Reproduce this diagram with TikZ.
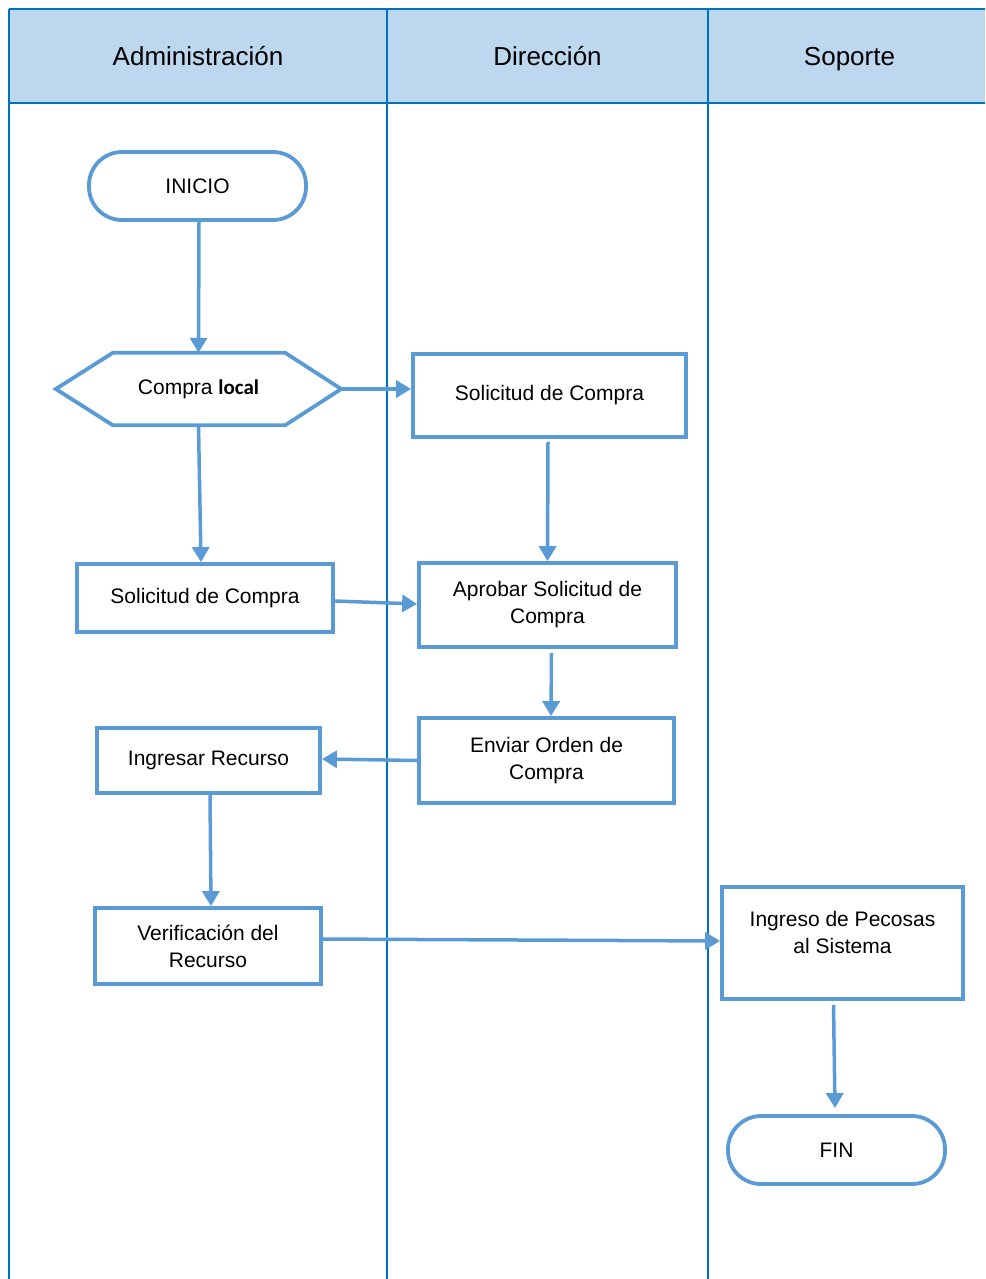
\documentclass[tikz,border=0pt]{standalone}
\usepackage{fontspec}
\setmainfont{Liberation Sans}
\newfontfamily\calibrilike{Carlito}
\usetikzlibrary{arrows.meta,calc}

\definecolor{lanecol}{HTML}{0070C0}
\definecolor{headfill}{HTML}{BDD7EE}
\definecolor{shapecol}{HTML}{5B9BD5}

\tikzset{
  lane/.style={draw=lanecol, line width=2pt},
  headtxt/.style={font=\fontsize{26}{30}\selectfont, text=black, anchor=base},
  box/.style={draw=shapecol, line width=3.8pt, fill=white, align=center,
    font=\fontsize{21}{27}\selectfont, inner sep=0pt},
  term/.style={box, rounded corners=33pt},
  flow/.style={draw=shapecol, line width=3.5pt,
    -{Triangle[length=15pt,width=17pt]}}
}

\begin{document}
\begin{tikzpicture}[x=1pt,y=-1pt]
\useasboundingbox (0,0) rectangle (985,1279);

% header band and swimlane borders
\fill[headfill] (9,9) rectangle (985,103);
\draw[lane] (9,9) -- (985,9);
\draw[lane] (9,103) -- (985,103);
\draw[lane] (9,9) -- (9,1279);
\draw[lane] (387,9) -- (387,1279);
\draw[lane] (708,9) -- (708,1279);

\node[headtxt] (hadm) at (198,66) {Administración};
\node[headtxt] (hdir) at (547.5,66) {Dirección};
\node[headtxt] (hsop) at (849.5,66) {Soporte};

% process steps
\node[term, minimum width=217pt, minimum height=68pt] (inicio) at (197.5,186) {INICIO};

\node[minimum width=285pt, minimum height=72pt, inner sep=0pt,
      font=\fontsize{21}{27}\selectfont] (hex) at (198.5,389) {};
\draw[draw=shapecol, line width=3.8pt, line join=miter]
  (hex.west) -- ($(hex.north west)+(57,0)$) -- ($(hex.north east)+(-56,0)$)
  -- (hex.east) -- ($(hex.south east)+(-56,0)$) -- ($(hex.south west)+(57,0)$)
  -- cycle;
\node[font=\fontsize{21}{27}\selectfont] (hextxt) at (hex.center)
  {Compra {\calibrilike\bfseries local}};

\node[box, minimum width=273pt, minimum height=83pt] (sol2) at (549.5,395.5) {Solicitud de Compra};
\node[box, minimum width=256pt, minimum height=68pt] (sol1) at (205,598) {Solicitud de Compra};
\node[box, minimum width=257pt, minimum height=84pt] (aprob) at (547.5,605) {Aprobar Solicitud de\\Compra};
\node[box, minimum width=255pt, minimum height=85pt] (enviar) at (546.5,760.5) {Enviar Orden de\\Compra};
\node[box, minimum width=223pt, minimum height=65pt] (ingresar) at (208.5,760.5) {Ingresar Recurso};
\node[box, minimum width=226pt, minimum height=76pt] (verif) at (208,946) {Verificación del\\Recurso};
\node[box, minimum width=241pt, minimum height=112pt] (pecosas) at (842.5,943) {};
\node[align=center, font=\fontsize{21}{27}\selectfont, inner sep=0pt] (pectxt)
  at ([yshift=10.5pt]pecosas.center) {Ingreso de Pecosas\\al Sistema};
\node[term, minimum width=217pt, minimum height=68pt] (fin) at (836.5,1150) {FIN};

% connectors
\draw[flow] ([xshift=1.5pt]inicio.south) -- (hex.north);
\draw[flow] (hex.east) -- (hex.east -| sol2.west);
\draw[flow] (hex.south) -- ([xshift=-4pt]sol1.north);
\draw[flow] ([xshift=-1.5pt,yshift=-3pt]sol2.south) -- (aprob.north);
\draw[flow] ([yshift=-3pt]sol1.east) -- ([yshift=1pt]aprob.west);
\draw[flow] ([xshift=4pt,yshift=-4pt]aprob.south) -- ([xshift=4.5pt]enviar.north);
\draw[flow] (enviar.west) -- ([yshift=1.5pt]ingresar.east);
\draw[flow] ([xshift=1.5pt]ingresar.south) -- ([xshift=3pt]verif.north);
\draw[flow] ([yshift=7pt,xshift=-3pt]verif.east) -- ([yshift=2pt]pecosas.west);
\draw[flow] ([xshift=-9pt,yshift=-4pt]pecosas.south) -- ([xshift=-1.5pt,yshift=6pt]fin.north);
\end{tikzpicture}
\end{document}
